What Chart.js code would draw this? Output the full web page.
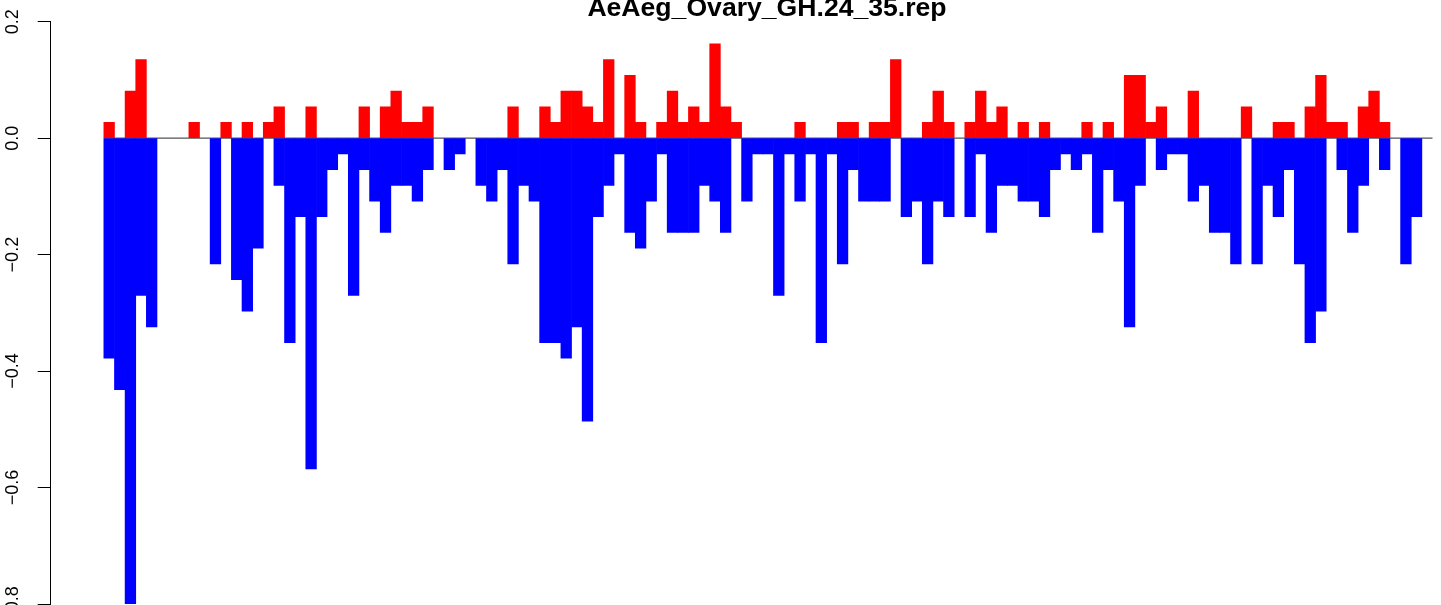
<!DOCTYPE html>
<html>
<head>
<meta charset="utf-8">
<title>AeAeg_Ovary_GH.24_35.rep</title>
<script src="https://cdn.jsdelivr.net/npm/chart.js@4.4.1/dist/chart.umd.min.js"></script>
<style>
    html, body { margin: 0; padding: 0; background: #fff; }
    #wrap { position: relative; width: 1441px; height: 605px; overflow: hidden; }
    #chart { position: absolute; left: 0; top: 0; }
    #title {
        position: absolute; left: 467px; width: 600px; top: -6px;
        text-align: center; color: #000;
        font: bold 26.6px/26.6px "Liberation Sans", Arial, sans-serif;
        white-space: nowrap;
    }
</style>
</head>
<body>
<div id="wrap">
    <canvas id="chart" width="1441" height="605"></canvas>
    <div id="title"></div>
</div>
<script>
// Chart title
const chartTitle = 'AeAeg_Ovary_GH.24_35.rep';

// Red bars (above zero), one value per bin, left to right
const upValues = [
    0.027, 0, 0.081, 0.135, 0, 0, 0, 0, 0.027, 0,
    0, 0.027, 0, 0.027, 0, 0.027, 0.054, 0, 0, 0.054,
    0, 0, 0, 0, 0.054, 0, 0.054, 0.081, 0.027, 0.027,
    0.054, 0, 0, 0, 0, 0, 0, 0, 0.054, 0,
    0, 0.054, 0.027, 0.081, 0.081, 0.054, 0.027, 0.135, 0, 0.108,
    0.027, 0, 0.027, 0.081, 0.027, 0.054, 0.027, 0.162, 0.054, 0.027,
    0, 0, 0, 0, 0, 0.027, 0, 0, 0, 0.027,
    0.027, 0, 0.027, 0.027, 0.135, 0, 0, 0.027, 0.081, 0.027,
    0, 0.027, 0.081, 0.027, 0.054, 0, 0.027, 0, 0.027, 0,
    0, 0, 0.027, 0, 0.027, 0, 0.108, 0.108, 0.027, 0.054,
    0, 0, 0.081, 0, 0, 0, 0, 0.054, 0, 0,
    0.027, 0.027, 0, 0.054, 0.108, 0.027, 0.027, 0, 0.054, 0.081,
    0.027, 0, 0, 0, 0
];

// Blue bars (below zero), same bins
const downValues = [
    -0.378, -0.432, -0.811, -0.270, -0.324, 0, 0, 0, 0, 0,
    -0.216, 0, -0.243, -0.297, -0.189, 0, -0.081, -0.351, -0.135, -0.568,
    -0.135, -0.054, -0.027, -0.270, -0.054, -0.108, -0.162, -0.081, -0.081, -0.108,
    -0.054, 0, -0.054, -0.027, 0, -0.081, -0.108, -0.054, -0.216, -0.081,
    -0.108, -0.351, -0.351, -0.378, -0.324, -0.486, -0.135, -0.081, -0.027, -0.162,
    -0.189, -0.108, -0.027, -0.162, -0.162, -0.162, -0.081, -0.108, -0.162, 0,
    -0.108, -0.027, -0.027, -0.270, -0.027, -0.108, -0.027, -0.351, -0.027, -0.216,
    -0.054, -0.108, -0.108, -0.108, 0, -0.135, -0.108, -0.216, -0.108, -0.135,
    0, -0.135, -0.027, -0.162, -0.081, -0.081, -0.108, -0.108, -0.135, -0.054,
    -0.027, -0.054, -0.027, -0.162, -0.054, -0.108, -0.324, -0.081, 0, -0.054,
    -0.027, -0.027, -0.108, -0.081, -0.162, -0.162, -0.216, 0, -0.216, -0.081,
    -0.135, -0.054, -0.216, -0.351, -0.297, 0, -0.054, -0.162, -0.081, 0,
    -0.054, 0, -0.216, -0.135, 0
];

// Y axis tick values
const yTicks = [0.2, 0.0, -0.2, -0.4, -0.6, -0.8];

const fontFamily = '"Liberation Sans", Arial, Helvetica, sans-serif';
Chart.defaults.font.family = fontFamily;

document.getElementById('title').textContent = chartTitle;

// bins sit at x = i + 0.5, each one unit wide; zero bars are skipped
const toPoints = values => values.map((v, i) => ({ x: i + 0.5, y: v === 0 ? null : v }));

new Chart(document.getElementById('chart'), {
    type: 'bar',
    data: {
        datasets: [
            {
                type: 'line',
                label: 'zero',
                data: [{ x: 0, y: 0 }, { x: upValues.length, y: 0 }],
                borderColor: '#555555',
                borderWidth: 1.2,
                pointRadius: 0,
                stack: 'base',
                order: 3
            },
            {
                label: 'up',
                data: toPoints(upValues),
                backgroundColor: '#ff0000',
                order: 1
            },
            {
                label: 'down',
                data: toPoints(downValues),
                backgroundColor: '#0000ff',
                order: 1
            }
        ]
    },
    options: {
        responsive: false,
        animation: false,
        devicePixelRatio: 1,
        layout: {
            autoPadding: false,
            padding: { top: 21.7, bottom: 1, left: 0, right: 0 }
        },
        datasets: {
            bar: {
                barPercentage: 1,
                categoryPercentage: 1,
                borderWidth: 0
            }
        },
        plugins: {
            legend: { display: false },
            tooltip: { enabled: false },
            title: { display: false }
        },
        scales: {
            x: {
                type: 'linear',
                display: false,
                stacked: true,
                offset: false,
                min: -5,
                max: 125.8
            },
            y: {
                stacked: true,
                min: -0.8,
                max: 0.2,
                afterFit: function(scale) {
                    // fixed axis width, and no extra room for the rotated end labels
                    scale.width = 50.7;
                    scale.paddingTop = 0;
                    scale.paddingBottom = 0;
                },
                afterBuildTicks: function(scale) {
                    scale.ticks = yTicks.map(v => ({ value: v }));
                },
                grid: {
                    drawOnChartArea: false,
                    drawTicks: true,
                    tickLength: 13,
                    tickColor: '#000',
                    lineWidth: 1
                },
                border: {
                    display: true,
                    color: '#000',
                    width: 1
                },
                ticks: {
                    minRotation: 90,
                    maxRotation: 90,
                    crossAlign: 'center',
                    padding: 6.6,
                    color: '#000',
                    font: { size: 18, family: fontFamily },
                    callback: function(value) {
                        return value.toFixed(1).replace('-', '\u2212');
                    }
                }
            }
        }
    }
});
</script>
</body>
</html>
